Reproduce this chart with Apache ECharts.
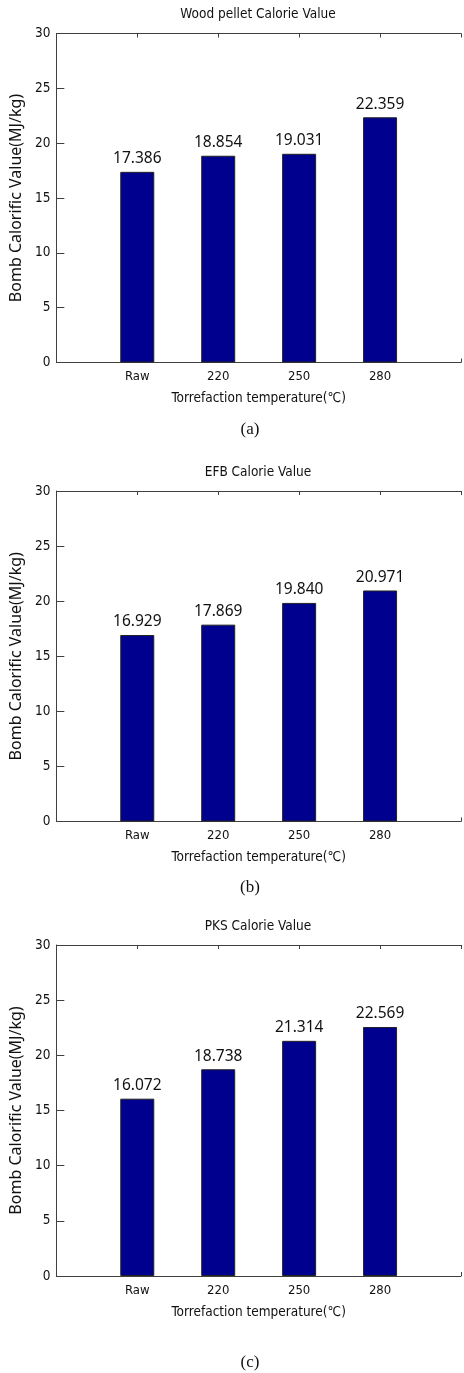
<!DOCTYPE html>
<html>
<head>
<meta charset="utf-8">
<script src="https://cdn.jsdelivr.net/npm/echarts@6/dist/echarts.min.js"></script>
<style>
html,body{margin:0;padding:0;background:#fff;overflow:hidden;}
#c{width:464px;height:1373px;}
</style>
</head>
<body>
<div id="c"></div>
<script>
const categories = ['Raw', '220', '250', '280'];
const titles = ['Wood pellet Calorie Value', 'EFB Calorie Value', 'PKS Calorie Value'];
const captions = ['(a)', '(b)', '(c)'];
const woodValues = [17.386, 18.854, 19.031, 22.359];
const efbValues = [16.929, 17.869, 19.840, 20.971];
const pksValues = [16.072, 18.738, 21.314, 22.569];
const yTicks = [0, 5, 10, 15, 20, 25, 30];
const xName = 'Torrefaction temperature(℃)';
const yName = 'Bomb Calorific Value(MJ/kg)';

const panels = [woodValues, efbValues, pksValues];
const gridTops = [33.5, 491, 945];
const gridHeights = [329, 330.5, 331];
const titleY = [14, 472, 926];
const captionY = [430, 888, 1363];

const narrow = "'Liberation Sans Narrow', 'DejaVu Sans Condensed', 'Arial Narrow', sans-serif";
const axisColor = '#404040';

const chart = echarts.init(document.getElementById('c'), null, {renderer: 'canvas'});

const grid = [], xAxis = [], yAxis = [], series = [], graphic = [];
panels.forEach((vals, i) => {
  grid.push({left: 51, width: 415, top: gridTops[i], height: gridHeights[i], containLabel: false});
  xAxis.push({
    type: 'value', gridIndex: i, min: 0, max: categories.length + 1, interval: 1,
    position: 'bottom',
    axisLine: {show: true, onZero: false, lineStyle: {color: axisColor, width: 1}},
    axisTick: {show: true, inside: true, length: 4, lineStyle: {color: axisColor}},
    splitLine: {show: false},
    axisLabel: {
      margin: 8, color: '#111', fontSize: 13, fontFamily: narrow,
      formatter: v => categories[v - 1] || ''
    },
    name: xName, nameLocation: 'middle', nameGap: 29,
    nameTextStyle: {color: '#111', fontSize: 13.5, fontFamily: narrow}
  });
  xAxis.push({
    type: 'value', gridIndex: i, min: 0, max: categories.length + 1, interval: 1,
    position: 'top',
    axisLine: {show: true, onZero: false, lineStyle: {color: axisColor, width: 1}},
    axisTick: {show: true, inside: true, length: 4, lineStyle: {color: axisColor}},
    splitLine: {show: false},
    axisLabel: {show: false}
  });
  yAxis.push({
    type: 'value', gridIndex: i, min: yTicks[0], max: yTicks[yTicks.length - 1], interval: 5,
    position: 'left',
    axisLine: {show: true, onZero: false, lineStyle: {color: axisColor, width: 1}},
    axisTick: {show: true, inside: true, length: 4, lineStyle: {color: axisColor}},
    splitLine: {show: false},
    axisLabel: {margin: 6, color: '#111', fontSize: 13.5, fontFamily: narrow},
    name: yName, nameLocation: 'middle', nameGap: 26, nameRotate: 90,
    nameTextStyle: {color: '#111', fontSize: 16, fontFamily: "'Noto Sans', 'DejaVu Sans', sans-serif"}
  });
  yAxis.push({
    type: 'value', gridIndex: i, min: yTicks[0], max: yTicks[yTicks.length - 1], interval: 5,
    position: 'right', offset: -8,
    axisLine: {show: false},
    axisTick: {show: true, inside: true, length: 5, lineStyle: {color: axisColor}},
    splitLine: {show: false},
    axisLabel: {show: false}
  });
  series.push({
    type: 'bar', xAxisIndex: i * 2, yAxisIndex: i * 2,
    data: vals.map((v, k) => [k + 1, v]),
    barWidth: 34,
    itemStyle: {color: '#00008f', borderColor: '#222', borderWidth: 1},
    label: {
      show: true, position: 'top', distance: 5, color: '#111',
      fontSize: 15.5, fontFamily: "'Noto Sans', 'DejaVu Sans', sans-serif",
      formatter: p => p.value[1].toFixed(3)
    },
    z: 1
  });
  graphic.push({
    type: 'text', x: 258, y: titleY[i],
    style: {text: titles[i], align: 'center', verticalAlign: 'middle', fontSize: 13.5, fontFamily: narrow, fill: '#111'}
  });
  graphic.push({
    type: 'text', x: 250, y: captionY[i],
    style: {text: captions[i], align: 'center', verticalAlign: 'middle', fontSize: 17, fontFamily: "'Liberation Serif', 'Times New Roman', serif", fill: '#111'}
  });
});

chart.setOption({
  animation: false,
  backgroundColor: '#fff',
  grid, xAxis, yAxis, series, graphic
});
</script>
</body>
</html>
